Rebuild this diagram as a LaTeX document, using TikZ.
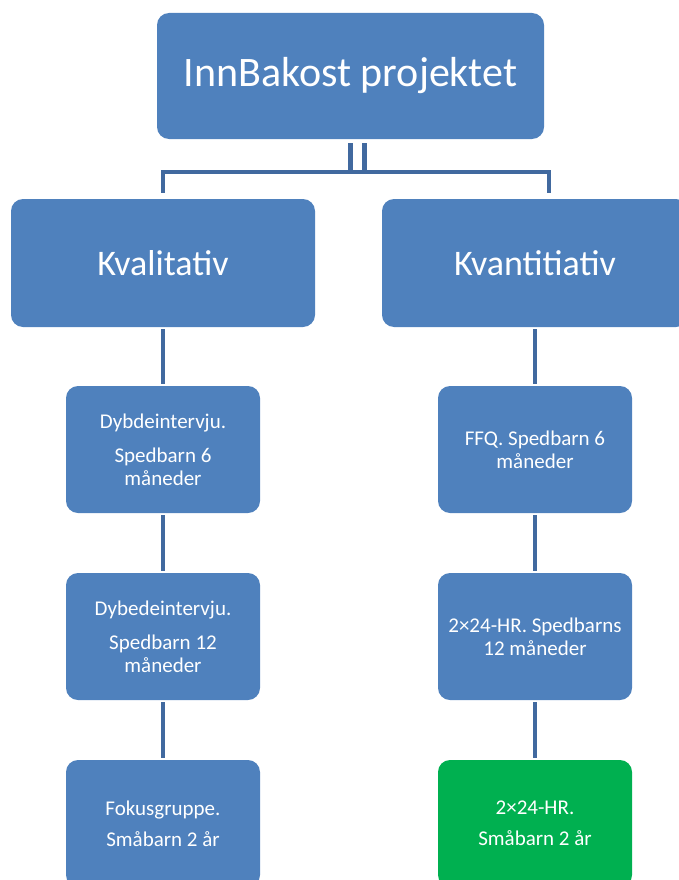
\documentclass[tikz,border=0pt]{standalone}
\usepackage{fontspec}
\setmainfont{Carlito}
\definecolor{boxblue}{HTML}{4F81BD}
\definecolor{linkblue}{HTML}{41699F}
\definecolor{boxgreen}{HTML}{00B050}
\tikzset{
  box/.style={draw=none, fill=boxblue, rounded corners=12pt, text=white, align=center, inner sep=0pt},
  small/.style={box, minimum width=194pt, minimum height=127pt, font=\fontsize{21}{23}\selectfont},
  mid/.style={box, minimum height=128pt, font=\fontsize{36}{42}\selectfont},
  link/.style={draw=linkblue, line width=4.5pt},
}
\begin{document}
\begin{tikzpicture}[x=1pt,y=-1pt]
\useasboundingbox (0,0) rectangle (679,880);
\clip (0,0) rectangle (679,880);
\node[box, minimum width=387pt, minimum height=126pt, font=\fontsize{42}{50}\selectfont] (T) at (350.5,76) {InnBakost projektet};
\node[mid, minimum width=304pt] (kl) at (163,263) {Kvalitativ};
\node[mid, minimum width=306pt] (kn) at (535,263) {Kvantitiativ};
\node[small] (l1) at (163,449.5) {Dybdeintervju.\\[11pt]Spedbarn 6\\måneder};
\node[small] (l2) at (163,636.5) {Dybedeintervju.\\[11pt]Spedbarn 12\\måneder};
\node[small] (l3) at (163,823.5) {Fokusgruppe.\\[8pt]Småbarn 2 år};
\node[small] (r1) at (535,449.5) {FFQ. Spedbarn 6\\måneder};
\node[small] (r2) at (535,636.5) {2×24-HR. Spedbarns\\12 måneder};
\node[small, fill=boxgreen] (r3) at (535,823.5) {2×24-HR.\\[8pt]Småbarn 2 år};
\draw[link] ([yshift=-4pt]T.south) -- ++(0,29) -| ([yshift=6pt]kl.north)
  ([yshift=-33pt]T.south) -- ([xshift=14pt,yshift=-33pt]T.south);
\draw[link] ([xshift=14pt,yshift=-4pt]T.south) -- ++(0,29) -| ([xshift=14pt,yshift=6pt]kn.north);
\draw[link, shorten <=2pt, shorten >=2pt] (kl.south) -- (l1.north);
\draw[link, shorten <=2pt, shorten >=2pt] (l1.south) -- (l2.north);
\draw[link, shorten <=2pt, shorten >=2pt] (l2.south) -- (l3.north);
\draw[link, shorten <=2pt, shorten >=2pt] (kn.south) -- (r1.north);
\draw[link, shorten <=2pt, shorten >=2pt] (r1.south) -- (r2.north);
\draw[link, shorten <=2pt, shorten >=2pt] (r2.south) -- (r3.north);
\end{tikzpicture}
\end{document}
